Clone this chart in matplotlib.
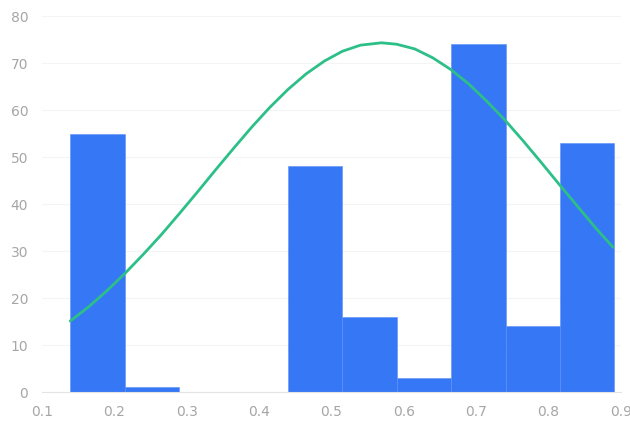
import matplotlib
matplotlib.use('Agg')
import matplotlib.pyplot as plt
import numpy as np

# histogram: 10 bins from 0.139 to 0.891
bin_edges = np.linspace(0.139, 0.891, 11)
counts = [55, 1, 0, 0, 48, 16, 3, 74, 14, 53]

# fitted distribution curve, read at fixed x positions
curve_x = [0.139, 0.165, 0.19, 0.215, 0.24, 0.265, 0.29, 0.315, 0.34, 0.365,
           0.39, 0.415, 0.44, 0.465, 0.49, 0.515, 0.54, 0.569, 0.59, 0.615,
           0.64, 0.665, 0.69, 0.715, 0.74, 0.765, 0.79, 0.815, 0.84, 0.865,
           0.889]
curve_y = [15.1, 18.2, 21.6, 25.3, 29.3, 33.5, 38.0, 42.6, 47.3, 51.9,
           56.4, 60.6, 64.4, 67.7, 70.4, 72.5, 73.8, 74.3, 74.0, 73.0,
           71.1, 68.6, 65.5, 61.8, 57.8, 53.4, 48.8, 44.1, 39.5, 34.9,
           30.8]

x_ticks = [0.1, 0.2, 0.3, 0.4, 0.5, 0.6, 0.7, 0.8, 0.9]
y_ticks = [0, 10, 20, 30, 40, 50, 60, 70, 80]

fig = plt.figure(figsize=(6.3, 4.26), dpi=100)
ax = fig.add_axes([0.0667, 0.0798, 0.919, 0.8826])

widths = np.diff(bin_edges)
ax.bar(bin_edges[:-1], counts, width=widths, align='edge',
       color='#3677f6', edgecolor='#5a8ff8', linewidth=0.4, zorder=2)
ax.plot(curve_x, curve_y, color='#2dbf88', linewidth=2.0,
        solid_capstyle='round', solid_joinstyle='round', zorder=3)

ax.set_xlim(0.1, 0.9)
ax.set_ylim(0, 80)
ax.set_xticks(x_ticks)
ax.set_xticklabels([f'{v:.1f}' for v in x_ticks])
ax.set_yticks(y_ticks)

ax.grid(axis='y', color='#f4f4f4', linewidth=0.8, zorder=0)
for side in ('top', 'right', 'left'):
    ax.spines[side].set_visible(False)
ax.spines['bottom'].set_color('#e3e3e3')
ax.tick_params(axis='both', length=0, labelsize=10, colors='#a6a6a6')
ax.tick_params(axis='x', pad=9)
ax.tick_params(axis='y', pad=10)

fig.savefig('out.png', dpi=100)
